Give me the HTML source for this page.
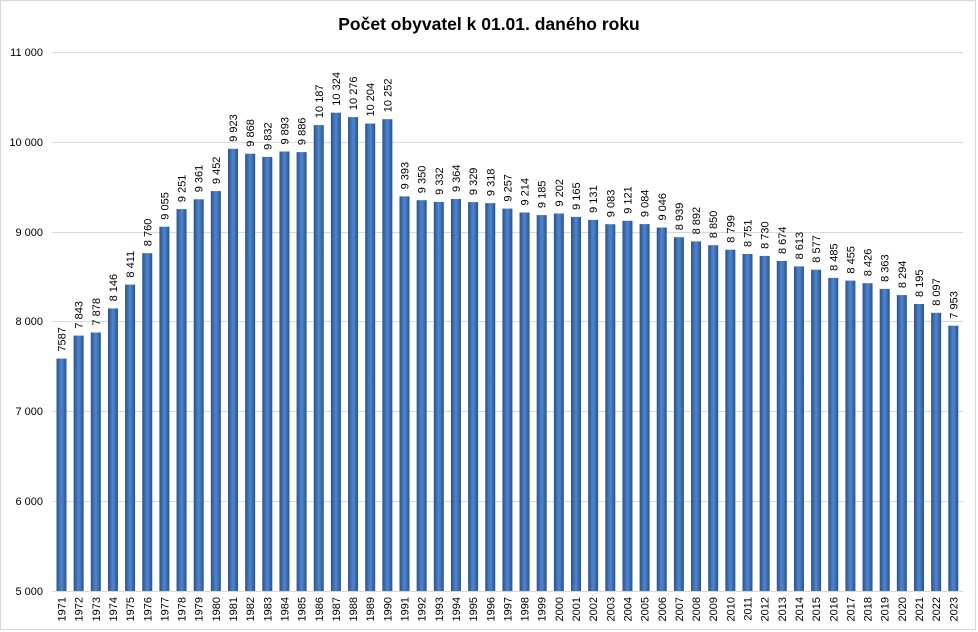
<!DOCTYPE html>
<html><head><meta charset="utf-8"><style>
html,body{margin:0;padding:0;background:#fff}
svg{display:block;font-family:"Liberation Sans",Arial,sans-serif}
.v{font-size:11px;fill:#000}
.yr{font-size:11px;fill:#000}
.ax{font-size:11px;fill:#000}
</style></head><body>
<svg width="978" height="632" viewBox="0 0 978 632">
<defs><linearGradient id="g" x1="0" x2="1" y1="0" y2="0">
<stop offset="0" stop-color="#28528e"/><stop offset="0.45" stop-color="#4b82cc"/><stop offset="0.55" stop-color="#4b82cc"/><stop offset="1" stop-color="#28528e"/></linearGradient></defs>
<rect x="0.5" y="0.5" width="975" height="629" fill="#fff" stroke="#d9d9d9"/>
<text x="489" y="30" text-anchor="middle" font-size="17.5" font-weight="bold">Počet obyvatel k 01.01. daného roku</text>
<g stroke="#d9d9d9" stroke-width="1">
<line x1="52" x2="963" y1="52.5" y2="52.5"/><line x1="52" x2="963" y1="142.5" y2="142.5"/><line x1="52" x2="963" y1="232.5" y2="232.5"/><line x1="52" x2="963" y1="321.5" y2="321.5"/><line x1="52" x2="963" y1="411.5" y2="411.5"/><line x1="52" x2="963" y1="501.5" y2="501.5"/><line x1="52" x2="963" y1="591.5" y2="591.5"/>
</g>
<g class="ax" text-anchor="end">
<text x="43" y="56">11 000</text><text x="43" y="146">10 000</text><text x="43" y="236">9 000</text><text x="43" y="325">8 000</text><text x="43" y="415">7 000</text><text x="43" y="505">6 000</text><text x="43" y="595">5 000</text>
</g>
<g transform="translate(61.5,0)" fill="url(#g)">
<g transform="translate(0)"><rect x="-5" y="358.6" width="10" height="232.4"/><text class="v" transform="translate(4,351.6) rotate(-90)">7587</text><text class="yr" transform="translate(4,597) rotate(-90)" text-anchor="end">1971</text></g>
<g transform="translate(17.15)"><rect x="-5" y="335.6" width="10" height="255.4"/><text class="v" transform="translate(4,328.6) rotate(-90)">7 843</text><text class="yr" transform="translate(4,597) rotate(-90)" text-anchor="end">1972</text></g>
<g transform="translate(34.3)"><rect x="-5" y="332.5" width="10" height="258.5"/><text class="v" transform="translate(4,325.5) rotate(-90)">7 878</text><text class="yr" transform="translate(4,597) rotate(-90)" text-anchor="end">1973</text></g>
<g transform="translate(51.45)"><rect x="-5" y="308.4" width="10" height="282.6"/><text class="v" transform="translate(4,301.4) rotate(-90)">8 146</text><text class="yr" transform="translate(4,597) rotate(-90)" text-anchor="end">1974</text></g>
<g transform="translate(68.6)"><rect x="-5" y="284.6" width="10" height="306.4"/><text class="v" transform="translate(4,277.6) rotate(-90)">8 411</text><text class="yr" transform="translate(4,597) rotate(-90)" text-anchor="end">1975</text></g>
<g transform="translate(85.75)"><rect x="-5" y="253.2" width="10" height="337.8"/><text class="v" transform="translate(4,246.2) rotate(-90)">8 760</text><text class="yr" transform="translate(4,597) rotate(-90)" text-anchor="end">1976</text></g>
<g transform="translate(102.9)"><rect x="-5" y="226.7" width="10" height="364.3"/><text class="v" transform="translate(4,219.7) rotate(-90)">9 055</text><text class="yr" transform="translate(4,597) rotate(-90)" text-anchor="end">1977</text></g>
<g transform="translate(120.05)"><rect x="-5" y="209.1" width="10" height="381.9"/><text class="v" transform="translate(4,202.1) rotate(-90)">9 251</text><text class="yr" transform="translate(4,597) rotate(-90)" text-anchor="end">1978</text></g>
<g transform="translate(137.2)"><rect x="-5" y="199.3" width="10" height="391.7"/><text class="v" transform="translate(4,192.3) rotate(-90)">9 361</text><text class="yr" transform="translate(4,597) rotate(-90)" text-anchor="end">1979</text></g>
<g transform="translate(154.35)"><rect x="-5" y="191.1" width="10" height="399.9"/><text class="v" transform="translate(4,184.1) rotate(-90)">9 452</text><text class="yr" transform="translate(4,597) rotate(-90)" text-anchor="end">1980</text></g>
<g transform="translate(171.5)"><rect x="-5" y="148.8" width="10" height="442.2"/><text class="v" transform="translate(4,141.8) rotate(-90)">9 923</text><text class="yr" transform="translate(4,597) rotate(-90)" text-anchor="end">1981</text></g>
<g transform="translate(188.65)"><rect x="-5" y="153.7" width="10" height="437.3"/><text class="v" transform="translate(4,146.7) rotate(-90)">9 868</text><text class="yr" transform="translate(4,597) rotate(-90)" text-anchor="end">1982</text></g>
<g transform="translate(205.8)"><rect x="-5" y="156.9" width="10" height="434.1"/><text class="v" transform="translate(4,149.9) rotate(-90)">9 832</text><text class="yr" transform="translate(4,597) rotate(-90)" text-anchor="end">1983</text></g>
<g transform="translate(222.95)"><rect x="-5" y="151.5" width="10" height="439.5"/><text class="v" transform="translate(4,144.5) rotate(-90)">9 893</text><text class="yr" transform="translate(4,597) rotate(-90)" text-anchor="end">1984</text></g>
<g transform="translate(240.1)"><rect x="-5" y="152.1" width="10" height="438.9"/><text class="v" transform="translate(4,145.1) rotate(-90)">9 886</text><text class="yr" transform="translate(4,597) rotate(-90)" text-anchor="end">1985</text></g>
<g transform="translate(257.25)"><rect x="-5" y="125.1" width="10" height="465.9"/><text class="v" transform="translate(4,118.1) rotate(-90)">10 187</text><text class="yr" transform="translate(4,597) rotate(-90)" text-anchor="end">1986</text></g>
<g transform="translate(274.4)"><rect x="-5" y="112.7" width="10" height="478.3"/><text class="v" transform="translate(4,105.7) rotate(-90)">10 324</text><text class="yr" transform="translate(4,597) rotate(-90)" text-anchor="end">1987</text></g>
<g transform="translate(291.55)"><rect x="-5" y="117.1" width="10" height="473.9"/><text class="v" transform="translate(4,110.1) rotate(-90)">10 276</text><text class="yr" transform="translate(4,597) rotate(-90)" text-anchor="end">1988</text></g>
<g transform="translate(308.7)"><rect x="-5" y="123.5" width="10" height="467.5"/><text class="v" transform="translate(4,116.5) rotate(-90)">10 204</text><text class="yr" transform="translate(4,597) rotate(-90)" text-anchor="end">1989</text></g>
<g transform="translate(325.85)"><rect x="-5" y="119.2" width="10" height="471.8"/><text class="v" transform="translate(4,112.2) rotate(-90)">10 252</text><text class="yr" transform="translate(4,597) rotate(-90)" text-anchor="end">1990</text></g>
<g transform="translate(343)"><rect x="-5" y="196.4" width="10" height="394.6"/><text class="v" transform="translate(4,189.4) rotate(-90)">9 393</text><text class="yr" transform="translate(4,597) rotate(-90)" text-anchor="end">1991</text></g>
<g transform="translate(360.15)"><rect x="-5" y="200.2" width="10" height="390.8"/><text class="v" transform="translate(4,193.2) rotate(-90)">9 350</text><text class="yr" transform="translate(4,597) rotate(-90)" text-anchor="end">1992</text></g>
<g transform="translate(377.3)"><rect x="-5" y="201.9" width="10" height="389.1"/><text class="v" transform="translate(4,194.9) rotate(-90)">9 332</text><text class="yr" transform="translate(4,597) rotate(-90)" text-anchor="end">1993</text></g>
<g transform="translate(394.45)"><rect x="-5" y="199" width="10" height="392"/><text class="v" transform="translate(4,192) rotate(-90)">9 364</text><text class="yr" transform="translate(4,597) rotate(-90)" text-anchor="end">1994</text></g>
<g transform="translate(411.6)"><rect x="-5" y="202.1" width="10" height="388.9"/><text class="v" transform="translate(4,195.1) rotate(-90)">9 329</text><text class="yr" transform="translate(4,597) rotate(-90)" text-anchor="end">1995</text></g>
<g transform="translate(428.75)"><rect x="-5" y="203.1" width="10" height="387.9"/><text class="v" transform="translate(4,196.1) rotate(-90)">9 318</text><text class="yr" transform="translate(4,597) rotate(-90)" text-anchor="end">1996</text></g>
<g transform="translate(445.9)"><rect x="-5" y="208.6" width="10" height="382.4"/><text class="v" transform="translate(4,201.6) rotate(-90)">9 257</text><text class="yr" transform="translate(4,597) rotate(-90)" text-anchor="end">1997</text></g>
<g transform="translate(463.05)"><rect x="-5" y="212.5" width="10" height="378.5"/><text class="v" transform="translate(4,205.5) rotate(-90)">9 214</text><text class="yr" transform="translate(4,597) rotate(-90)" text-anchor="end">1998</text></g>
<g transform="translate(480.2)"><rect x="-5" y="215.1" width="10" height="375.9"/><text class="v" transform="translate(4,208.1) rotate(-90)">9 185</text><text class="yr" transform="translate(4,597) rotate(-90)" text-anchor="end">1999</text></g>
<g transform="translate(497.35)"><rect x="-5" y="213.5" width="10" height="377.5"/><text class="v" transform="translate(4,206.5) rotate(-90)">9 202</text><text class="yr" transform="translate(4,597) rotate(-90)" text-anchor="end">2000</text></g>
<g transform="translate(514.5)"><rect x="-5" y="216.9" width="10" height="374.1"/><text class="v" transform="translate(4,209.9) rotate(-90)">9 165</text><text class="yr" transform="translate(4,597) rotate(-90)" text-anchor="end">2001</text></g>
<g transform="translate(531.65)"><rect x="-5" y="219.9" width="10" height="371.1"/><text class="v" transform="translate(4,212.9) rotate(-90)">9 131</text><text class="yr" transform="translate(4,597) rotate(-90)" text-anchor="end">2002</text></g>
<g transform="translate(548.8)"><rect x="-5" y="224.2" width="10" height="366.8"/><text class="v" transform="translate(4,217.2) rotate(-90)">9 083</text><text class="yr" transform="translate(4,597) rotate(-90)" text-anchor="end">2003</text></g>
<g transform="translate(565.95)"><rect x="-5" y="220.8" width="10" height="370.2"/><text class="v" transform="translate(4,213.8) rotate(-90)">9 121</text><text class="yr" transform="translate(4,597) rotate(-90)" text-anchor="end">2004</text></g>
<g transform="translate(583.1)"><rect x="-5" y="224.1" width="10" height="366.9"/><text class="v" transform="translate(4,217.1) rotate(-90)">9 084</text><text class="yr" transform="translate(4,597) rotate(-90)" text-anchor="end">2005</text></g>
<g transform="translate(600.25)"><rect x="-5" y="227.5" width="10" height="363.5"/><text class="v" transform="translate(4,220.5) rotate(-90)">9 046</text><text class="yr" transform="translate(4,597) rotate(-90)" text-anchor="end">2006</text></g>
<g transform="translate(617.4)"><rect x="-5" y="237.2" width="10" height="353.8"/><text class="v" transform="translate(4,230.2) rotate(-90)">8 939</text><text class="yr" transform="translate(4,597) rotate(-90)" text-anchor="end">2007</text></g>
<g transform="translate(634.55)"><rect x="-5" y="241.4" width="10" height="349.6"/><text class="v" transform="translate(4,234.4) rotate(-90)">8 892</text><text class="yr" transform="translate(4,597) rotate(-90)" text-anchor="end">2008</text></g>
<g transform="translate(651.7)"><rect x="-5" y="245.2" width="10" height="345.8"/><text class="v" transform="translate(4,238.2) rotate(-90)">8 850</text><text class="yr" transform="translate(4,597) rotate(-90)" text-anchor="end">2009</text></g>
<g transform="translate(668.85)"><rect x="-5" y="249.7" width="10" height="341.3"/><text class="v" transform="translate(4,242.7) rotate(-90)">8 799</text><text class="yr" transform="translate(4,597) rotate(-90)" text-anchor="end">2010</text></g>
<g transform="translate(686)"><rect x="-5" y="254" width="10" height="337"/><text class="v" transform="translate(4,247) rotate(-90)">8 751</text><text class="yr" transform="translate(4,597) rotate(-90)" text-anchor="end">2011</text></g>
<g transform="translate(703.15)"><rect x="-5" y="255.9" width="10" height="335.1"/><text class="v" transform="translate(4,248.9) rotate(-90)">8 730</text><text class="yr" transform="translate(4,597) rotate(-90)" text-anchor="end">2012</text></g>
<g transform="translate(720.3)"><rect x="-5" y="261" width="10" height="330"/><text class="v" transform="translate(4,254) rotate(-90)">8 674</text><text class="yr" transform="translate(4,597) rotate(-90)" text-anchor="end">2013</text></g>
<g transform="translate(737.45)"><rect x="-5" y="266.4" width="10" height="324.6"/><text class="v" transform="translate(4,259.4) rotate(-90)">8 613</text><text class="yr" transform="translate(4,597) rotate(-90)" text-anchor="end">2014</text></g>
<g transform="translate(754.6)"><rect x="-5" y="269.7" width="10" height="321.3"/><text class="v" transform="translate(4,262.7) rotate(-90)">8 577</text><text class="yr" transform="translate(4,597) rotate(-90)" text-anchor="end">2015</text></g>
<g transform="translate(771.75)"><rect x="-5" y="277.9" width="10" height="313.1"/><text class="v" transform="translate(4,270.9) rotate(-90)">8 485</text><text class="yr" transform="translate(4,597) rotate(-90)" text-anchor="end">2016</text></g>
<g transform="translate(788.9)"><rect x="-5" y="280.6" width="10" height="310.4"/><text class="v" transform="translate(4,273.6) rotate(-90)">8 455</text><text class="yr" transform="translate(4,597) rotate(-90)" text-anchor="end">2017</text></g>
<g transform="translate(806.05)"><rect x="-5" y="283.2" width="10" height="307.8"/><text class="v" transform="translate(4,276.2) rotate(-90)">8 426</text><text class="yr" transform="translate(4,597) rotate(-90)" text-anchor="end">2018</text></g>
<g transform="translate(823.2)"><rect x="-5" y="288.9" width="10" height="302.1"/><text class="v" transform="translate(4,281.9) rotate(-90)">8 363</text><text class="yr" transform="translate(4,597) rotate(-90)" text-anchor="end">2019</text></g>
<g transform="translate(840.35)"><rect x="-5" y="295.1" width="10" height="295.9"/><text class="v" transform="translate(4,288.1) rotate(-90)">8 294</text><text class="yr" transform="translate(4,597) rotate(-90)" text-anchor="end">2020</text></g>
<g transform="translate(857.5)"><rect x="-5" y="304" width="10" height="287"/><text class="v" transform="translate(4,297) rotate(-90)">8 195</text><text class="yr" transform="translate(4,597) rotate(-90)" text-anchor="end">2021</text></g>
<g transform="translate(874.65)"><rect x="-5" y="312.8" width="10" height="278.2"/><text class="v" transform="translate(4,305.8) rotate(-90)">8 097</text><text class="yr" transform="translate(4,597) rotate(-90)" text-anchor="end">2022</text></g>
<g transform="translate(891.8)"><rect x="-5" y="325.7" width="10" height="265.3"/><text class="v" transform="translate(4,318.7) rotate(-90)">7 953</text><text class="yr" transform="translate(4,597) rotate(-90)" text-anchor="end">2023</text></g>
</g>
</svg>
</body></html>
